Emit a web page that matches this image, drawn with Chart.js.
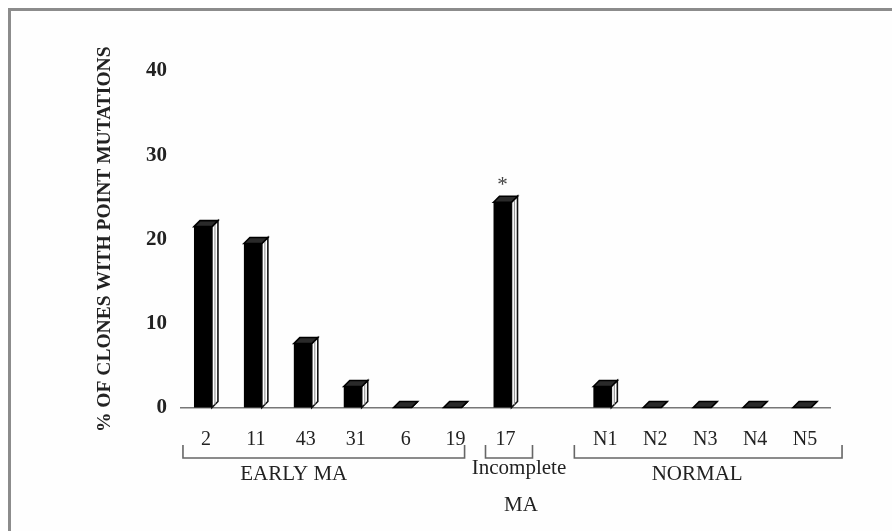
<!DOCTYPE html>
<html>
<head>
<meta charset="utf-8">
<script src="https://cdn.jsdelivr.net/npm/chart.js@4"></script>
<style>
  html, body { margin: 0; padding: 0; background: #fff; }
  #wrap { position: relative; width: 892px; height: 531px; overflow: hidden; }
  #frame { position: absolute; left: 8px; top: 8px; width: 900px; height: 540px;
           border-left: 3px solid #8c8c8c; border-top: 3px solid #8c8c8c; background: #fefefe; }
  canvas { position: absolute; left: 0; top: 0; }
</style>
</head>
<body>
<div id="wrap">
  <div id="frame"></div>
  <canvas id="chart" width="892" height="531"></canvas>
</div>
<script>
// ── DATA ─────────────────────────────────────────────
const clones  = ['2', '11', '43', '31', '6', '19', '17', '', 'N1', 'N2', 'N3', 'N4', 'N5'];
const pctMut  = [21.5, 19.5, 7.6, 2.5, 0, 0, 24.4, null, 2.5, 0, 0, 0, 0];
const marks   = ['', '', '', '', '', '', '*', '', '', '', '', '', ''];
const yTicks  = [0, 10, 20, 30, 40];

const groupNames = [['EARLY MA'], ['Incomplete', 'MA'], ['NORMAL']];
const groupFirst = [0, 6, 8];
const groupLast  = [5, 6, 12];

const SERIF = "'Liberation Serif', 'Times New Roman', serif";

// ── 3D COLUMNS + BRACKETS ─────────────────────────────
const column3d = {
  id: 'column3d',
  afterDatasetsDraw(chart, args, opts) {
    const ctx = chart.ctx;
    const meta = chart.getDatasetMeta(0);
    const dx = opts.depth, dy = opts.depth;
    ctx.save();
    meta.data.forEach((bar, i) => {
      if (pctMut[i] === null || pctMut[i] === undefined) return;
      const { x, y, base, width } = bar.getProps(['x', 'y', 'base', 'width'], true);
      const l = x - width / 2 - dx / 2, r = l + width;
      const top = Math.min(y, base);
      // side face
      ctx.beginPath();
      ctx.moveTo(r, top); ctx.lineTo(r + dx, top - dy);
      ctx.lineTo(r + dx, base - dy); ctx.lineTo(r, base);
      ctx.closePath();
      ctx.fillStyle = '#fff'; ctx.fill();
      ctx.lineWidth = 1.6; ctx.strokeStyle = '#111'; ctx.stroke();
      ctx.beginPath();
      ctx.moveTo(r + dx / 2, top - dy / 2); ctx.lineTo(r + dx / 2, base - dy / 2);
      ctx.lineWidth = 1.2; ctx.strokeStyle = '#999'; ctx.stroke();
      // top face
      ctx.beginPath();
      ctx.moveTo(l, top); ctx.lineTo(l + dx, top - dy);
      ctx.lineTo(r + dx, top - dy); ctx.lineTo(r, top);
      ctx.closePath();
      ctx.fillStyle = '#2a2a2a'; ctx.fill();
      ctx.lineWidth = 1.6; ctx.strokeStyle = '#000'; ctx.stroke();
      // front face
      ctx.fillStyle = '#000';
      ctx.fillRect(l, top, width, base - top);
      // marker text
      if (marks[i]) {
        ctx.fillStyle = '#444';
        ctx.font = '21px ' + SERIF;
        ctx.textAlign = 'center';
        ctx.textBaseline = 'alphabetic';
        ctx.fillText(marks[i], x - dx / 2, top - dy - 5);
      }
    });
    ctx.restore();
  },
  afterDraw(chart, args, opts) {
    const ctx = chart.ctx;
    const xs = chart.scales.x;
    ctx.save();
    ctx.strokeStyle = '#666';
    ctx.lineWidth = 1.6;
    ctx.fillStyle = '#222';
    ctx.font = '21px ' + SERIF;
    ctx.textAlign = 'center';
    ctx.textBaseline = 'middle';
    groupNames.forEach((lines, g) => {
      const left  = xs.getPixelForValue(groupFirst[g]) - opts.pad[g][0];
      const right = xs.getPixelForValue(groupLast[g])  + opts.pad[g][1];
      ctx.beginPath();
      ctx.moveTo(left, opts.tickTop); ctx.lineTo(left, opts.lineY);
      ctx.lineTo(right, opts.lineY); ctx.lineTo(right, opts.tickTop);
      ctx.stroke();
      const cx = (left + right) / 2 + opts.labelDx[g];
      lines.forEach((t, k) => {
        ctx.fillText(t, cx + (k ? 2 : 0), opts.labelY[g] + k * 37);
      });
    });
    ctx.restore();
  }
};

// ── CHART CONFIG ─────────────────────────────────────
const config = {
  type: 'bar',
  data: {
    labels: clones,
    datasets: [{
      label: '% of clones with point mutations',
      data: pctMut,
      backgroundColor: 'rgba(0,0,0,0)',
      borderWidth: 0,
      categoryPercentage: 1,
      barPercentage: 0.36
    }]
  },
  options: {
    responsive: false,
    animation: false,
    events: [],
    layout: { padding: { left: 0, top: 71, right: 62, bottom: 0 } },
    scales: {
      x: {
        grid: { display: false },
        border: { display: true, color: '#777', width: 1.5 },
        ticks: { color: '#222', font: { family: SERIF, size: 20 }, padding: 12, maxRotation: 0, autoSkip: false },
        afterFit: s => { s.height = 123.5; }
      },
      y: {
        min: 0, max: 40,
        grid: { display: false },
        border: { display: false },
        afterBuildTicks: s => { s.ticks = yTicks.map(v => ({ value: v })); },
        ticks: { color: '#222', font: { family: SERIF, size: 21, weight: 'bold' }, padding: 6 },
        title: {
          display: true,
          text: '% OF CLONES WITH POINT MUTATIONS',
          color: '#222',
          font: { family: SERIF, size: 19.5, weight: 'bold' },
          padding: { top: 93, bottom: 0 }
        },
        afterFit: s => { s.width = 181; }
      }
    },
    plugins: {
      legend: { display: false },
      tooltip: { enabled: false },
      column3d: {
        depth: 6,
        pad: [[23, 9], [20, 27], [31, 37]],
        labelDx: [-30, 10, -11],
        labelY: [474, 468, 474],
        lineY: 458,
        tickTop: 445
      }
    }
  },
  plugins: [column3d]
};

new Chart(document.getElementById('chart').getContext('2d'), config);
</script>
</body>
</html>
